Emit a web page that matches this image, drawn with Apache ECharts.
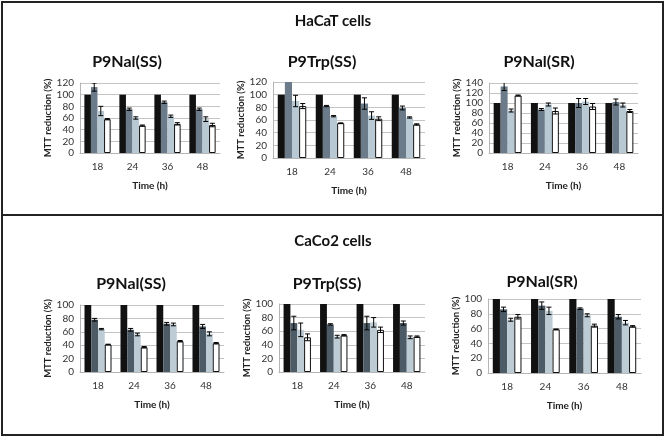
<!DOCTYPE html>
<html><head><meta charset="utf-8">
<script src="https://cdn.jsdelivr.net/npm/echarts@6/dist/echarts.min.js"></script>
<style>html,body{margin:0;padding:0;background:#fff}#c{width:666px;height:439px}</style>
</head><body><div id="c"></div>
<script>
const categories = ['18', '24', '36', '48'];
const control = [100, 100, 100, 100];

// HaCaT P9Nal(SS)
const hNalSS_b = [113, 75, 87, 75];  const hNalSS_bErr = [7, 2, 2, 2];
const hNalSS_c = [72, 60, 63, 58];   const hNalSS_cErr = [8, 2, 2, 4];
const hNalSS_d = [58, 47, 50, 48];   const hNalSS_dErr = [1, 1, 2, 3];
// HaCaT P9Trp(SS)
const hTrpSS_b = [124, 82, 86, 79];  const hTrpSS_bErr = [0, 1, 9, 3];
const hTrpSS_c = [90, 66, 67, 64];   const hTrpSS_cErr = [9, 1, 6, 1];
const hTrpSS_d = [82, 55, 62, 53];   const hTrpSS_dErr = [4, 0.5, 3, 1];
// HaCaT P9Nal(SR)
const hNalSR_b = [133, 87, 100, 102]; const hNalSR_bErr = [8, 2, 9, 6];
const hNalSR_c = [85, 97, 103, 96];   const hNalSR_cErr = [3, 3, 6, 4];
const hNalSR_d = [115, 84, 93, 84];   const hNalSR_dErr = [1, 6, 6, 3];
// CaCo2 P9Nal(SS)
const cNalSS_b = [78, 63, 72, 68];   const cNalSS_bErr = [2, 2, 2, 3];
const cNalSS_c = [64, 56, 71, 57];   const cNalSS_cErr = [1, 2, 2, 3];
const cNalSS_d = [41, 37, 46, 43];   const cNalSS_dErr = [0.5, 1, 1, 1];
// CaCo2 P9Trp(SS)
const cTrpSS_b = [72, 70, 72, 72];   const cTrpSS_bErr = [10, 1, 10, 3];
const cTrpSS_c = [62, 52, 73, 51];   const cTrpSS_cErr = [10, 2, 7, 2];
const cTrpSS_d = [51, 54, 62, 52];   const cTrpSS_dErr = [5, 1, 4, 1];
// CaCo2 P9Nal(SR)
const cNalSR_b = [86, 91, 87, 76];   const cNalSR_bErr = [3, 5, 1, 3];
const cNalSR_c = [72, 84, 78, 68];   const cNalSR_cErr = [2, 5, 2, 3];
const cNalSR_d = [76, 59, 64, 63];   const cNalSR_dErr = [3, 0.5, 2, 1];

const panelTitles = ['P9Nal(SS)', 'P9Trp(SS)', 'P9Nal(SR)', 'P9Nal(SS)', 'P9Trp(SS)', 'P9Nal(SR)'];
const yMax = [120, 120, 140, 100, 100, 100];
const panels = [
  [[hNalSS_b, hNalSS_bErr], [hNalSS_c, hNalSS_cErr], [hNalSS_d, hNalSS_dErr]],
  [[hTrpSS_b, hTrpSS_bErr], [hTrpSS_c, hTrpSS_cErr], [hTrpSS_d, hTrpSS_dErr]],
  [[hNalSR_b, hNalSR_bErr], [hNalSR_c, hNalSR_cErr], [hNalSR_d, hNalSR_dErr]],
  [[cNalSS_b, cNalSS_bErr], [cNalSS_c, cNalSS_cErr], [cNalSS_d, cNalSS_dErr]],
  [[cTrpSS_b, cTrpSS_bErr], [cTrpSS_c, cTrpSS_cErr], [cTrpSS_d, cTrpSS_dErr]],
  [[cNalSR_b, cNalSR_bErr], [cNalSR_c, cNalSR_cErr], [cNalSR_d, cNalSR_dErr]]
];

const FONT = 'Lato';
const CAT_GAP = 0.25;
const grids = [
  {left: 80, top: 83, width: 140, height: 70},
  {left: 273, top: 82, width: 152, height: 76},
  {left: 489, top: 83, width: 149, height: 70},
  {left: 80, top: 305, width: 144, height: 67},
  {left: 279, top: 304, width: 146, height: 68},
  {left: 488, top: 299, width: 153, height: 74}
];
const titlePos = [[127, 62], [322, 62], [539, 62], [131, 284], [327, 284], [542, 282]];
const colorsTop = ['#111111', '#6c7b89', '#b9c9d3', '#ffffff'];
const colorsBot = ['#111111', '#4d5b66', '#bccbd4', '#ffffff'];

function errRender(barIdx) {
  return function (params, api) {
    const x = api.value(0), v = api.value(1), e = api.value(2);
    if (!e) return null;
    const catW = api.size([1, 0])[0];
    const groupW = catW * (1 - CAT_GAP);
    const bw = groupW / 4;
    const off = -groupW / 2 + bw * (barIdx + 0.5);
    const hi = api.coord([x, v + e]);
    const lo = api.coord([x, v - e]);
    const cx = hi[0] + off;
    const cap = 2.5;
    const st = {stroke: '#000', lineWidth: 1};
    return {type: 'group', children: [
      {type: 'line', shape: {x1: cx, y1: hi[1], x2: cx, y2: lo[1]}, style: st},
      {type: 'line', shape: {x1: cx - cap, y1: hi[1], x2: cx + cap, y2: hi[1]}, style: st},
      {type: 'line', shape: {x1: cx - cap, y1: lo[1], x2: cx + cap, y2: lo[1]}, style: st}
    ]};
  };
}

const option = {animation: false, grid: [], xAxis: [], yAxis: [], series: [], graphic: []};
grids.forEach((g, i) => {
  option.grid.push(g);
  option.xAxis.push({
    type: 'category', gridIndex: i, data: categories,
    name: 'Time (h)', nameLocation: 'middle', nameGap: 28,
    nameTextStyle: {fontFamily: FONT, fontWeight: 'bold', fontSize: 10, color: '#222'},
    axisLine: {lineStyle: {color: '#b5b5b5'}}, axisTick: {show: false},
    axisLabel: {fontFamily: FONT, fontSize: 10, color: '#333', margin: 9}
  });
  option.yAxis.push({
    type: 'value', gridIndex: i, min: 0, max: yMax[i], interval: 20,
    name: 'MTT reduction (%)', nameLocation: 'middle', nameGap: 26,
    nameTextStyle: {fontFamily: FONT, fontWeight: 'bold', fontSize: 9.5, color: '#222'},
    axisLine: {show: true, lineStyle: {color: '#b5b5b5'}}, axisTick: {show: false},
    axisLabel: {fontFamily: FONT, fontSize: 10, color: '#333', margin: 6},
    splitLine: {lineStyle: {color: '#c4c4c4'}}
  });
  const cols = i < 3 ? colorsTop : colorsBot;
  const sets = [[control, null]].concat(panels[i]);
  sets.forEach((s, k) => {
    option.series.push({
      type: 'bar', xAxisIndex: i, yAxisIndex: i, data: s[0],
      barGap: '0%', barCategoryGap: (CAT_GAP * 100) + '%',
      itemStyle: k === 3 ? {color: '#fff', borderColor: '#111', borderWidth: 1} : {color: cols[k]},
      silent: true
    });
  });
  panels[i].forEach((s, k) => {
    option.series.push({
      type: 'custom', xAxisIndex: i, yAxisIndex: i, clip: true, silent: true,
      renderItem: errRender(k + 1),
      data: s[0].map((v, j) => [j, v, s[1][j]]), z: 5
    });
  });
  option.graphic.push({
    type: 'text', x: titlePos[i][0], y: titlePos[i][1],
    style: {text: panelTitles[i], fontFamily: FONT, fontWeight: 'bold', fontSize: 16, fill: '#111', align: 'center', verticalAlign: 'middle'}
  });
});
option.graphic.push(
  {type: 'rect', shape: {x: 2, y: 2, width: 661, height: 433}, style: {fill: 'none', stroke: '#222', lineWidth: 2}},
  {type: 'line', shape: {x1: 2, y1: 215, x2: 663, y2: 215}, style: {stroke: '#222', lineWidth: 2}},
  {type: 'text', x: 333, y: 21, style: {text: 'HaCaT cells', fontFamily: FONT, fontWeight: 'bold', fontSize: 15, fill: '#111', align: 'center', verticalAlign: 'middle'}},
  {type: 'text', x: 333, y: 241, style: {text: 'CaCo2 cells', fontFamily: FONT, fontWeight: 'bold', fontSize: 15, fill: '#111', align: 'center', verticalAlign: 'middle'}}
);
const chart = echarts.init(document.getElementById('c'), null, {renderer: 'canvas'});
chart.setOption(option);
</script></body></html>
